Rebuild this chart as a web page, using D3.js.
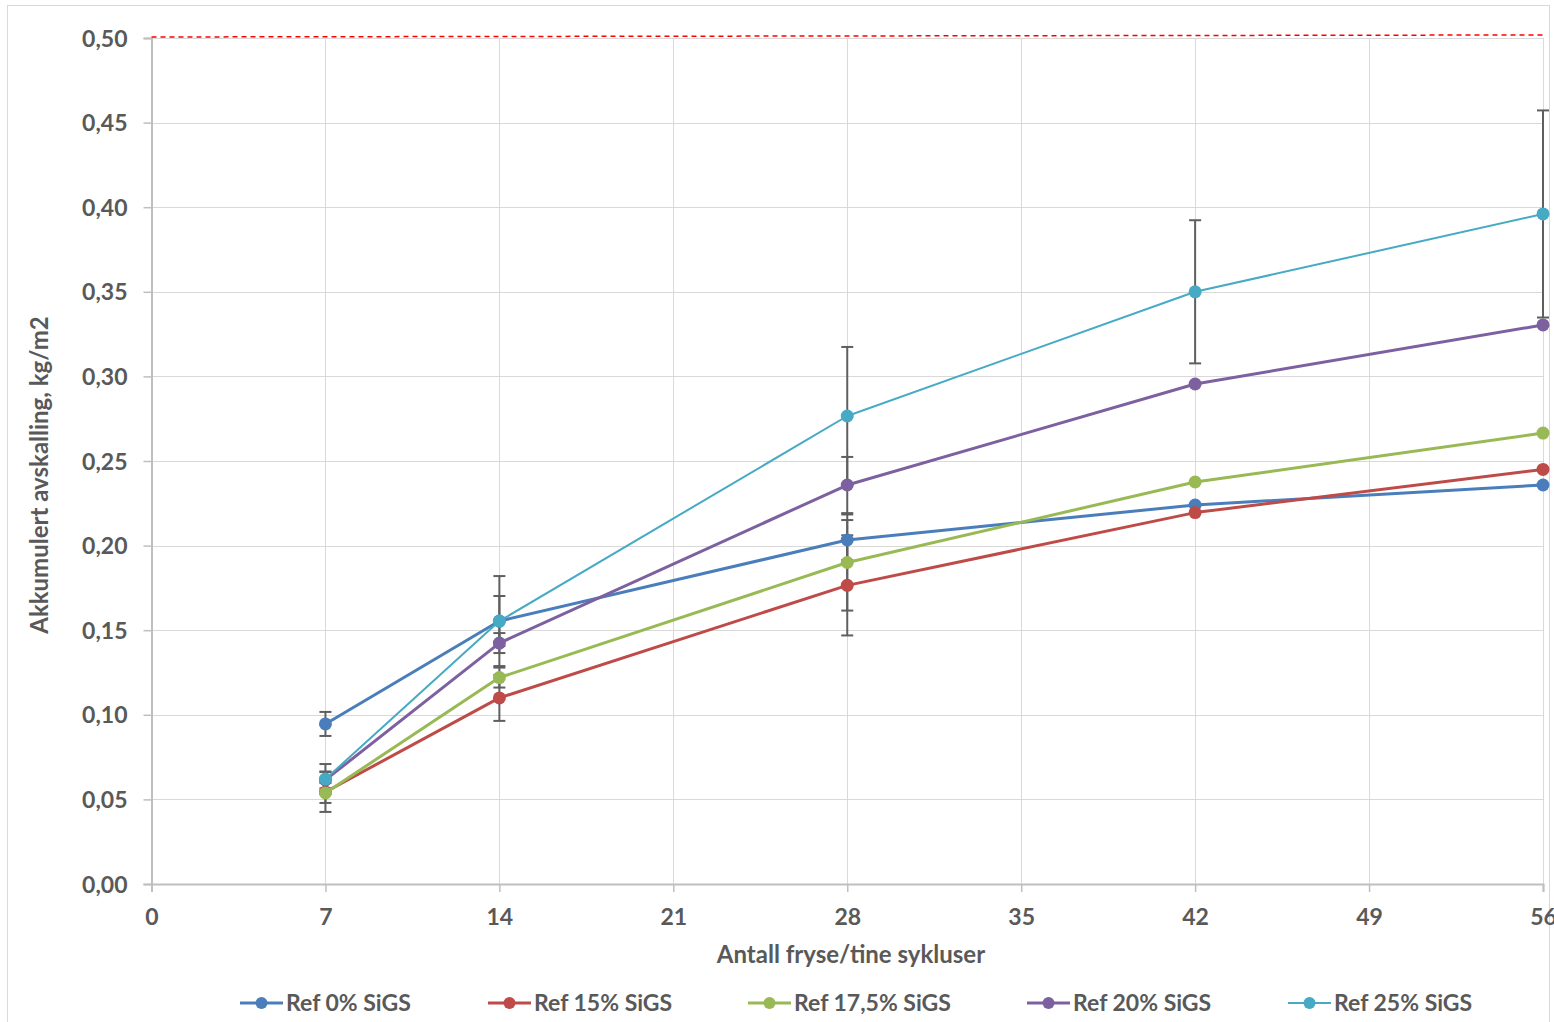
<!DOCTYPE html>
<html><head><meta charset="utf-8">
<script src="https://cdn.jsdelivr.net/npm/d3@7"></script>
<style>body{margin:0;background:#fff}text{font-family:Lato,'Open Sans',sans-serif;}</style>
</head><body><svg id="c" width="1554" height="1022"></svg>
<script>
const cycles = [7, 14, 28, 42, 56];
const xTicks = [0, 7, 14, 21, 28, 35, 42, 49, 56];
const yTicks = [0, 0.05, 0.10, 0.15, 0.20, 0.25, 0.30, 0.35, 0.40, 0.45, 0.50];
const seriesNames = ["Ref 0% SiGS", "Ref 15% SiGS", "Ref 17,5% SiGS", "Ref 20% SiGS", "Ref 25% SiGS"];
const colors = ["#4a7ebb", "#be4b48", "#98b954", "#7d60a0", "#46aac5"];
const ref0 = [0.0946, 0.1554, 0.2033, 0.2240, 0.2358];
const ref15 = [0.0544, 0.1100, 0.1765, 0.2195, 0.2450];
const ref175 = [0.0538, 0.1220, 0.1900, 0.2376, 0.2665];
const ref20 = [0.0615, 0.1424, 0.2358, 0.2955, 0.3304];
const ref25 = [0.0620, 0.1554, 0.2766, 0.3500, 0.3960];
const err0 = [0.0071, 0.0148, 0.0118, 0, 0];
const err15 = [0.0118, 0.0136, 0.0296, 0, 0];
const err175 = [0.0059, 0.0059, 0.0284, 0, 0];
const err20 = [0.0050, 0.0059, 0.0166, 0, 0];
const err25 = [0.0089, 0.0266, 0.0408, 0.0423, 0.0612];
const limitX = [0, 56];
const limitY = [0.5006, 0.5018];

const values = [ref0, ref15, ref175, ref20, ref25];
const errs = [err0, err15, err175, err20, err25];
const widths = [3, 3, 3, 3, 2];

const svg = d3.select("#c");
const L = 151.5, R = 1543, T = 38, B = 884;
const x = d3.scaleLinear().domain([0, 56]).range([L, R]);
const y = d3.scaleLinear().domain([0, 0.5]).range([B, T]);

svg.append("rect").attr("x", 7.5).attr("y", 5.5).attr("width", 1542).attr("height", 1030)
  .attr("fill", "none").attr("stroke", "#d9d9d9");

// gridlines
svg.append("g").selectAll("line").data(yTicks.slice(1)).join("line")
  .attr("x1", L).attr("x2", R).attr("y1", d => Math.round(y(d)) + 0.5).attr("y2", d => Math.round(y(d)) + 0.5)
  .attr("stroke", "#d9d9d9").attr("stroke-width", 1);
svg.append("g").selectAll("line").data(xTicks.slice(1)).join("line")
  .attr("y1", T).attr("y2", B).attr("x1", d => Math.round(x(d)) + 0.5).attr("x2", d => Math.round(x(d)) + 0.5)
  .attr("stroke", "#d9d9d9").attr("stroke-width", 1);

// axes
const fmt = d => d3.format(".2f")(d).replace(".", ",");
const yAxis = svg.append("g").attr("transform", `translate(${L},0)`)
  .call(d3.axisLeft(y).tickValues(yTicks).tickFormat(fmt).tickSize(8).tickPadding(16));
const xAxis = svg.append("g").attr("transform", `translate(0,${B})`)
  .call(d3.axisBottom(x).tickValues(xTicks).tickFormat(d3.format("d")).tickSize(8).tickPadding(17));
[yAxis, xAxis].forEach(a => {
  a.select(".domain").attr("stroke", "#bfbfbf").attr("stroke-width", 2);
  a.selectAll(".tick line").attr("stroke", "#bfbfbf").attr("stroke-width", 1.5);
  a.selectAll(".tick text").attr("fill", "#595959").attr("font-size", 23).attr("font-weight", "bold")
    .style("font-family", "Lato,'Open Sans',sans-serif");
});
yAxis.selectAll(".tick text").attr("dy", "0.35em");

// limit line
svg.append("line").attr("x1", x(limitX[0])).attr("x2", x(limitX[1]))
  .attr("y1", y(limitY[0])).attr("y2", y(limitY[1]))
  .attr("stroke", "#ff0000").attr("stroke-width", 1.5).attr("stroke-dasharray", "5,4");

// error bars
const eg = svg.append("g");
values.forEach((vals, i) => {
  vals.forEach((v, j) => {
    const e = errs[i][j];
    if (!e) return;
    const cx = x(cycles[j]);
    eg.append("line").attr("x1", cx).attr("x2", cx).attr("y1", y(v - e)).attr("y2", y(v + e))
      .attr("stroke", "#5f5f5f").attr("stroke-width", 2);
    [v - e, v + e].forEach(b => eg.append("line").attr("x1", cx - 6).attr("x2", cx + 6)
      .attr("y1", y(b)).attr("y2", y(b)).attr("stroke", "#5f5f5f").attr("stroke-width", 2));
  });
});

// series
const line = d3.line().x((d, j) => x(cycles[j])).y(d => y(d));
values.forEach((vals, i) => {
  const g = svg.append("g");
  g.append("path").datum(vals).attr("d", line).attr("fill", "none")
    .attr("stroke", colors[i]).attr("stroke-width", widths[i]).attr("stroke-linejoin", "round");
  g.selectAll("circle").data(vals).join("circle")
    .attr("cx", (d, j) => x(cycles[j])).attr("cy", d => y(d)).attr("r", 6.5).attr("fill", colors[i]);
});

// axis titles
svg.append("text").attr("x", 851).attr("y", 963).attr("text-anchor", "middle")
  .attr("font-size", 24).attr("font-weight", "bold").attr("fill", "#595959").text("Antall fryse/tine sykluser");
svg.append("text").attr("transform", "translate(48,475) rotate(-90)").attr("text-anchor", "middle")
  .attr("font-size", 24).attr("font-weight", "bold").attr("fill", "#595959").text("Akkumulert avskalling, kg/m2");

// legend
const legX = [240, 488, 748, 1027, 1288];
const lg = svg.append("g");
seriesNames.forEach((n, i) => {
  const g = lg.append("g").attr("transform", `translate(${legX[i]},1003)`);
  g.append("line").attr("x1", 0).attr("x2", 43).attr("y1", 0).attr("y2", 0)
    .attr("stroke", colors[i]).attr("stroke-width", widths[i]);
  g.append("circle").attr("cx", 21.5).attr("cy", 0).attr("r", 6).attr("fill", colors[i]);
  g.append("text").attr("x", 46).attr("y", 0).attr("dy", "0.35em").attr("font-size", 23)
    .attr("font-weight", "bold").attr("fill", "#595959").text(n);
});
</script></body></html>
